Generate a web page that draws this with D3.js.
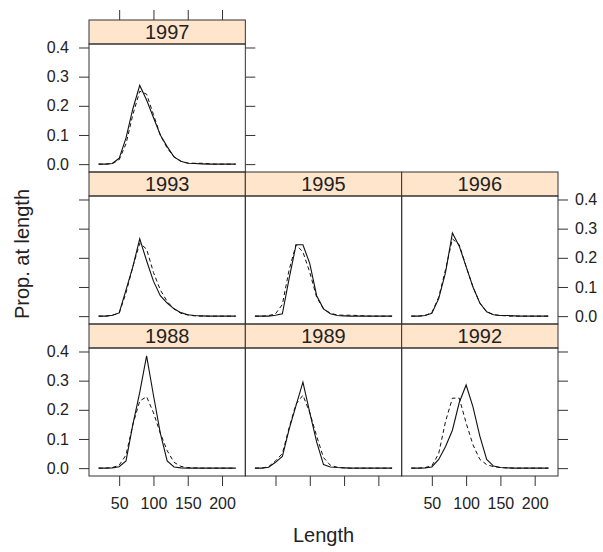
<!DOCTYPE html>
<html><head><meta charset="utf-8">
<script src="https://cdn.jsdelivr.net/npm/d3@7"></script>
<style>
html,body{margin:0;padding:0;background:#fff;}
svg text{font-family:"Liberation Sans",Arial,sans-serif;fill:#222;}
</style></head>
<body>
<svg id="chart" width="603" height="552"></svg>
<script>
// ---- data ----
const lengths = [20,30,40,50,60,70,80,90,100,110,120,130,140,150,160,170,180,190,200,210,220];
const years = ["1988","1989","1992","1993","1995","1996","1997"];
const obs1988  = [0,0,0.001,0.005,0.025,0.15,0.26,0.385,0.25,0.12,0.025,0.004,0.001,0,0,0,0,0,0,0,0];
const pred1988 = [0,0,0.002,0.01,0.045,0.15,0.23,0.245,0.19,0.12,0.06,0.02,0.006,0.002,0.001,0,0,0,0,0,0];
const obs1989  = [0,0,0.003,0.02,0.04,0.135,0.215,0.295,0.19,0.09,0.012,0.004,0.002,0.001,0,0,0,0,0,0,0];
const pred1989 = [0,0,0.005,0.025,0.05,0.14,0.22,0.25,0.19,0.11,0.036,0.01,0.003,0.001,0,0,0,0,0,0,0];
const obs1992  = [0,0,0.001,0.004,0.03,0.074,0.13,0.225,0.285,0.21,0.11,0.03,0.007,0.002,0.001,0,0,0,0,0,0];
const pred1992 = [0,0,0.002,0.008,0.05,0.16,0.24,0.24,0.155,0.08,0.03,0.012,0.005,0.002,0.001,0,0,0,0,0,0];
const obs1993  = [0,0,0.003,0.011,0.09,0.17,0.265,0.19,0.12,0.07,0.045,0.025,0.012,0.005,0.002,0.001,0,0,0,0,0];
const pred1993 = [0,0,0.003,0.01,0.08,0.17,0.25,0.23,0.15,0.09,0.05,0.025,0.01,0.004,0.001,0,0,0,0,0,0];
const obs1995  = [0,0,0,0.003,0.008,0.13,0.245,0.245,0.18,0.07,0.025,0.008,0.002,0.001,0,0,0,0,0,0,0];
const pred1995 = [0,0,0.002,0.008,0.04,0.16,0.245,0.22,0.15,0.065,0.025,0.01,0.004,0.003,0.003,0.002,0.001,0,0,0,0];
const obs1996  = [0,0,0.002,0.01,0.06,0.15,0.285,0.24,0.17,0.10,0.045,0.015,0.005,0.002,0.002,0.001,0,0,0,0,0];
const pred1996 = [0,0,0.002,0.012,0.065,0.16,0.265,0.245,0.17,0.10,0.045,0.015,0.005,0.002,0.001,0,0,0,0,0,0];
const obs1997  = [0,0,0.002,0.02,0.09,0.19,0.27,0.22,0.16,0.10,0.06,0.025,0.01,0.003,0.002,0.001,0,0,0,0,0];
const pred1997 = [0,0,0.002,0.015,0.07,0.17,0.25,0.24,0.17,0.10,0.055,0.025,0.01,0.004,0.003,0.003,0.002,0,0,0,0];
const xTicks = [50,100,150,200];
const yTicks = [0.0,0.1,0.2,0.3,0.4];
const xTitle = "Length";
const yTitle = "Prop. at length";

const obsByYear = {"1988":obs1988,"1989":obs1989,"1992":obs1992,"1993":obs1993,"1995":obs1995,"1996":obs1996,"1997":obs1997};
const predByYear = {"1988":pred1988,"1989":pred1989,"1992":pred1992,"1993":pred1993,"1995":pred1995,"1996":pred1996,"1997":pred1997};

(function(){
// ---- layout ----
const L = 89, R = 558, T = 20, B = 476;
const nCol = 3, nRow = 3;
const colW = (R - L) / nCol;
const rowH = (B - T) / nRow;
const stripH = 24;
const plotH = rowH - stripH;
const tickLen = 10;
const border = "#333";

const svg = d3.select("#chart");

// scales (lattice-style 7% padding)
const xExt = d3.extent(lengths);
const xPad = (xExt[1]-xExt[0])*0.07;
const allY = years.flatMap(yv => obsByYear[yv].concat(predByYear[yv]));
const yExt = d3.extent(allY);
const yPad = (yExt[1]-yExt[0])*0.07;
const x = d3.scaleLinear().domain([xExt[0]-xPad, xExt[1]+xPad]).range([0, colW]);
const y = d3.scaleLinear().domain([yExt[0]-yPad, yExt[1]+yPad]).range([plotH, 0]);

const line = d3.line().x(d => x(d[0])).y(d => y(d[1]));

function styleAxis(sel){
  sel.select(".domain").remove();
  sel.selectAll(".tick line").attr("stroke",border);
  sel.selectAll(".tick text").attr("font-size",16).attr("fill","#222")
    .attr("font-family","Liberation Sans, Arial, sans-serif");
}

years.forEach((yr, i) => {
  const col = i % nCol;
  const rowFromBottom = Math.floor(i / nCol);
  const row = nRow - 1 - rowFromBottom;
  const px = L + col*colW;
  const py = T + row*rowH;
  const g = svg.append("g").attr("transform", `translate(${px},${py})`);
  g.append("rect").attr("x",0).attr("y",0).attr("width",colW).attr("height",stripH)
    .attr("fill","#FFE5CC").attr("stroke",border).attr("stroke-width",1);
  g.append("text").attr("x",colW/2).attr("y",stripH/2).attr("dy","0.36em")
    .attr("text-anchor","middle").attr("font-size",20).text(yr);
  const pg = g.append("g").attr("transform",`translate(0,${stripH})`);
  pg.append("rect").attr("width",colW).attr("height",plotH)
    .attr("fill","none").attr("stroke",border).attr("stroke-width",1);
  const obs = lengths.map((l,k)=>[l, obsByYear[yr][k]]);
  const pred = lengths.map((l,k)=>[l, predByYear[yr][k]]);
  pg.append("path").attr("d", line(pred)).attr("fill","none").attr("stroke","#111")
    .attr("stroke-width",1).attr("stroke-dasharray","4,3");
  pg.append("path").attr("d", line(obs)).attr("fill","none").attr("stroke","#111")
    .attr("stroke-width",1.1);

  if (rowFromBottom === 0) {
    const lab = (col % 2 === 0);
    const ax = d3.axisBottom(x).tickValues(xTicks).tickSize(tickLen).tickPadding(12)
      .tickFormat(lab ? d3.format("d") : () => "");
    pg.append("g").attr("transform",`translate(0,${plotH})`).call(ax).call(styleAxis);
  }
  if (rowFromBottom === nRow-1) {
    const ax = d3.axisTop(x).tickValues(xTicks).tickSize(tickLen).tickFormat(() => "");
    g.append("g").call(ax).call(styleAxis);
  }
  if (col === 0) {
    const lab = (rowFromBottom % 2 === 0);
    const ax = d3.axisLeft(y).tickValues(yTicks).tickSize(tickLen).tickPadding(10)
      .tickFormat(lab ? d3.format(".1f") : () => "");
    pg.append("g").call(ax).call(styleAxis);
  }
  const lastInRow = (col === nCol-1) || (i === years.length-1);
  if (lastInRow) {
    const lab = (rowFromBottom % 2 === 1) && col === nCol-1;
    const ax = d3.axisRight(y).tickValues(yTicks).tickSize(tickLen).tickPadding(7)
      .tickFormat(lab ? d3.format(".1f") : () => "");
    pg.append("g").attr("transform",`translate(${colW},0)`).call(ax).call(styleAxis);
  }
});

svg.append("text").attr("x",(L+R)/2).attr("y",542)
  .attr("text-anchor","middle").attr("font-size",20).text(xTitle);
svg.append("text").attr("transform",`translate(29,254) rotate(-90)`)
  .attr("text-anchor","middle").attr("font-size",20).text(yTitle);
})();
</script>
</body></html>
